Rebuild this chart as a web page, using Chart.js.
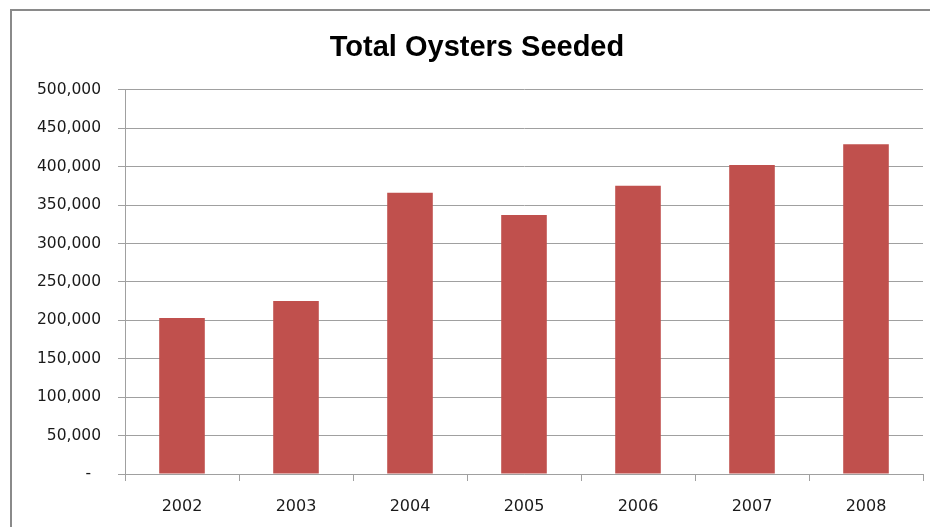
<!DOCTYPE html>
<html>
<head>
<meta charset="utf-8">
<script src="https://cdn.jsdelivr.net/npm/chart.js@4/dist/chart.umd.min.js"></script>
<style>
  html, body { margin: 0; padding: 0; background: #fff; overflow: hidden; }
  #frame {
    position: absolute; left: 10px; top: 9px;
    width: 980px; height: 580px;
    border: 2px solid #8a8a8a;
  }
  #wrap { position: absolute; left: 0; top: 0; width: 930px; height: 527px; }
</style>
</head>
<body>
<div id="frame"></div>
<div id="wrap"><canvas id="oysterChart"></canvas></div>
<script>
// Data
const years = ['2002', '2003', '2004', '2005', '2006', '2007', '2008'];
const oystersSeeded = [203000, 225000, 366000, 337000, 375000, 402000, 429000];
const yMax = 500000;
const yStep = 50000;

const axisGray = '#a0a0a0';

new Chart(document.getElementById('oysterChart'), {
    type: 'bar',
    data: {
        labels: years,
        datasets: [{
            data: oystersSeeded,
            backgroundColor: '#c0504d',
            borderWidth: 0,
            barPercentage: 0.4,
            categoryPercentage: 1.0
        }]
    },
    options: {
        responsive: true,
        maintainAspectRatio: false,
        animation: false,
        layout: { padding: { left: 31, right: 7, top: 0, bottom: 0 } },
        plugins: {
            legend: { display: false },
            tooltip: { enabled: false },
            title: {
                display: true,
                text: 'Total Oysters Seeded',
                color: '#000',
                font: { family: "'Liberation Sans', Arial, sans-serif", size: 29, weight: 'bold' },
                padding: { top: 31, bottom: 24 }
            }
        },
        scales: {
            x: {
                grid: {
                    offset: true,
                    drawOnChartArea: false,
                    drawTicks: true,
                    tickLength: 7,
                    color: axisGray
                },
                border: { color: axisGray },
                ticks: { color: '#1a1a1a', font: { family: "'DejaVu Sans', sans-serif", size: 16 }, padding: 16, maxRotation: 0 },
                afterFit: (scale) => { scale.height = 53; }
            },
            y: {
                min: 0,
                max: yMax,
                grid: { color: axisGray, tickLength: 7 },
                border: { color: axisGray },
                ticks: {
                    stepSize: yStep,
                    color: '#1a1a1a',
                    font: { family: "'DejaVu Sans', sans-serif", size: 15.5 },
                    padding: 17,
                    callback: (v) => v === 0 ? '-  ' : v.toLocaleString('en-US')
                },
                afterFit: (scale) => { scale.width = 94; }
            }
        }
    }
});
</script>
</body>
</html>
